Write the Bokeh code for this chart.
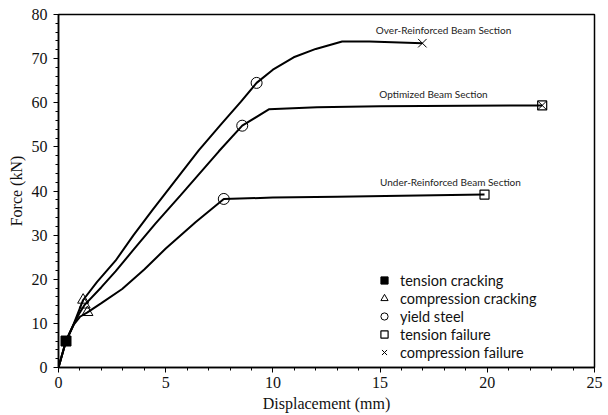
from bokeh.plotting import figure
from bokeh.models import Range1d, SingleIntervalTicker, Legend, LegendItem
from bokeh.core.properties import value
from bokeh.embed import file_html
from bokeh.resources import INLINE

# --- data ---
over_disp = [0, 0.35, 0.72, 1.15, 1.8, 2.66, 3.5, 4.37, 5.69, 6.54, 7.6, 8.5, 9.24, 10.0, 10.97, 12.0, 13.23, 14.5, 16.97]
over_force = [0, 6.0, 10.0, 15.3, 19.4, 24.2, 30.0, 35.6, 43.9, 49.2, 55.2, 60.2, 64.5, 67.5, 70.3, 72.2, 73.9, 73.9, 73.5]

opt_disp = [0, 0.35, 0.72, 1.0, 1.22, 2.0, 2.66, 3.5, 4.52, 5.69, 7.48, 8.57, 9.81, 12.06, 15.0, 19.0, 22.56]
opt_force = [0, 6.0, 9.9, 12.5, 14.2, 18.2, 21.8, 26.7, 32.6, 39.0, 49.0, 54.8, 58.5, 59.0, 59.2, 59.3, 59.4]

under_disp = [0, 0.35, 0.72, 1.0, 1.35, 2.0, 2.97, 4.0, 4.99, 6.39, 7.71, 10.0, 13.0, 16.0, 19.87]
under_force = [0, 6.0, 9.8, 11.5, 12.5, 14.6, 17.8, 22.2, 26.9, 32.9, 38.2, 38.5, 38.7, 38.9, 39.2]

tension_cracking_x = [0.35]
tension_cracking_y = [6.0]
compression_cracking_x = [1.15, 1.22, 1.35]
compression_cracking_y = [15.3, 14.2, 12.5]
yield_steel_x = [9.24, 8.57, 7.71]
yield_steel_y = [64.5, 54.8, 38.2]
tension_failure_x = [22.56, 19.87]
tension_failure_y = [59.4, 39.2]
compression_failure_x = [16.97, 22.56]
compression_failure_y = [73.5, 59.4]

curve_labels = ["Over-Reinforced Beam Section", "Optimized Beam Section", "Under-Reinforced Beam Section"]
legend_labels = ["tension cracking", "compression cracking", "yield steel", "tension failure", "compression failure"]

SERIF = "Liberation Serif"
SANS = "Lato"

p = figure(width=608, height=415, output_backend="svg", toolbar_location=None,
           x_range=Range1d(0, 25), y_range=Range1d(0, 80),
           min_border_left=58, min_border_right=14, min_border_top=14, min_border_bottom=48)
p.grid.visible = False
p.outline_line_color = "black"
p.outline_line_width = 1.5
p.background_fill_color = "white"
p.border_fill_color = "white"

p.xaxis.ticker = SingleIntervalTicker(interval=5, num_minor_ticks=5)
p.yaxis.ticker = SingleIntervalTicker(interval=10, num_minor_ticks=5)
for ax in (p.xaxis[0], p.yaxis[0]):
    ax.axis_line_width = 1.5
    ax.axis_line_color = "black"
    ax.major_tick_in = 0
    ax.major_tick_out = 5
    ax.minor_tick_in = 0
    ax.minor_tick_out = 3
    ax.major_tick_line_color = "black"
    ax.minor_tick_line_color = "black"
    ax.major_label_text_font = SERIF
    ax.major_label_text_font_size = "16px"
    ax.major_label_text_color = "#111111"
    ax.axis_label_text_font = SERIF
    ax.axis_label_text_font_size = "16px"
    ax.axis_label_text_font_style = "normal"
    ax.axis_label_text_color = "#111111"
p.xaxis.major_label_standoff = 4
p.yaxis.major_label_standoff = 6
p.xaxis.axis_label = "Displacement (mm)"
p.yaxis.axis_label = "Force (kN)"
p.xaxis.axis_label_standoff = 4
p.yaxis.axis_label_standoff = 4

for xs, ys in ((over_disp, over_force), (opt_disp, opt_force), (under_disp, under_force)):
    p.line(xs, ys, line_color="black", line_width=2)

r_tc = p.scatter(tension_cracking_x, tension_cracking_y, marker="square", size=10,
                 fill_color="black", line_color="black")
r_cc = p.scatter(compression_cracking_x, compression_cracking_y, marker="triangle", size=11,
                 fill_color=None, line_color="black", line_width=1)
r_ys = p.scatter(yield_steel_x, yield_steel_y, marker="circle", size=11,
                 fill_color=None, line_color="black", line_width=1)
r_tf = p.scatter(tension_failure_x, tension_failure_y, marker="square", size=9,
                 fill_color=None, line_color="black", line_width=1.2)
r_cf = p.scatter(compression_failure_x, compression_failure_y, marker="x", size=12,
                 line_color="black", line_width=1)

p.text(x=[17.96, 17.49, 18.28], y=[76.4, 61.9, 42.15], text=curve_labels,
       text_font=value(SANS), text_font_size="10px", text_align="center",
       text_baseline="middle", text_color="#222222")

legend = Legend(items=[LegendItem(label=lbl, renderers=[r]) for lbl, r in
                       zip(legend_labels, [r_tc, r_cc, r_ys, r_tf, r_cf])],
                location=(314, 6), orientation="vertical")
legend.border_line_color = None
legend.background_fill_alpha = 0
legend.padding = 0
legend.margin = 0
legend.glyph_width = 24
legend.glyph_height = 18
legend.spacing = 0
legend.label_standoff = 4
legend.label_text_font = SANS
legend.label_text_font_size = "14.5px"
legend.label_text_color = "#111111"
legend.label_height = 18
p.add_layout(legend, "center")

open("out.html", "w").write(file_html(p, INLINE))
